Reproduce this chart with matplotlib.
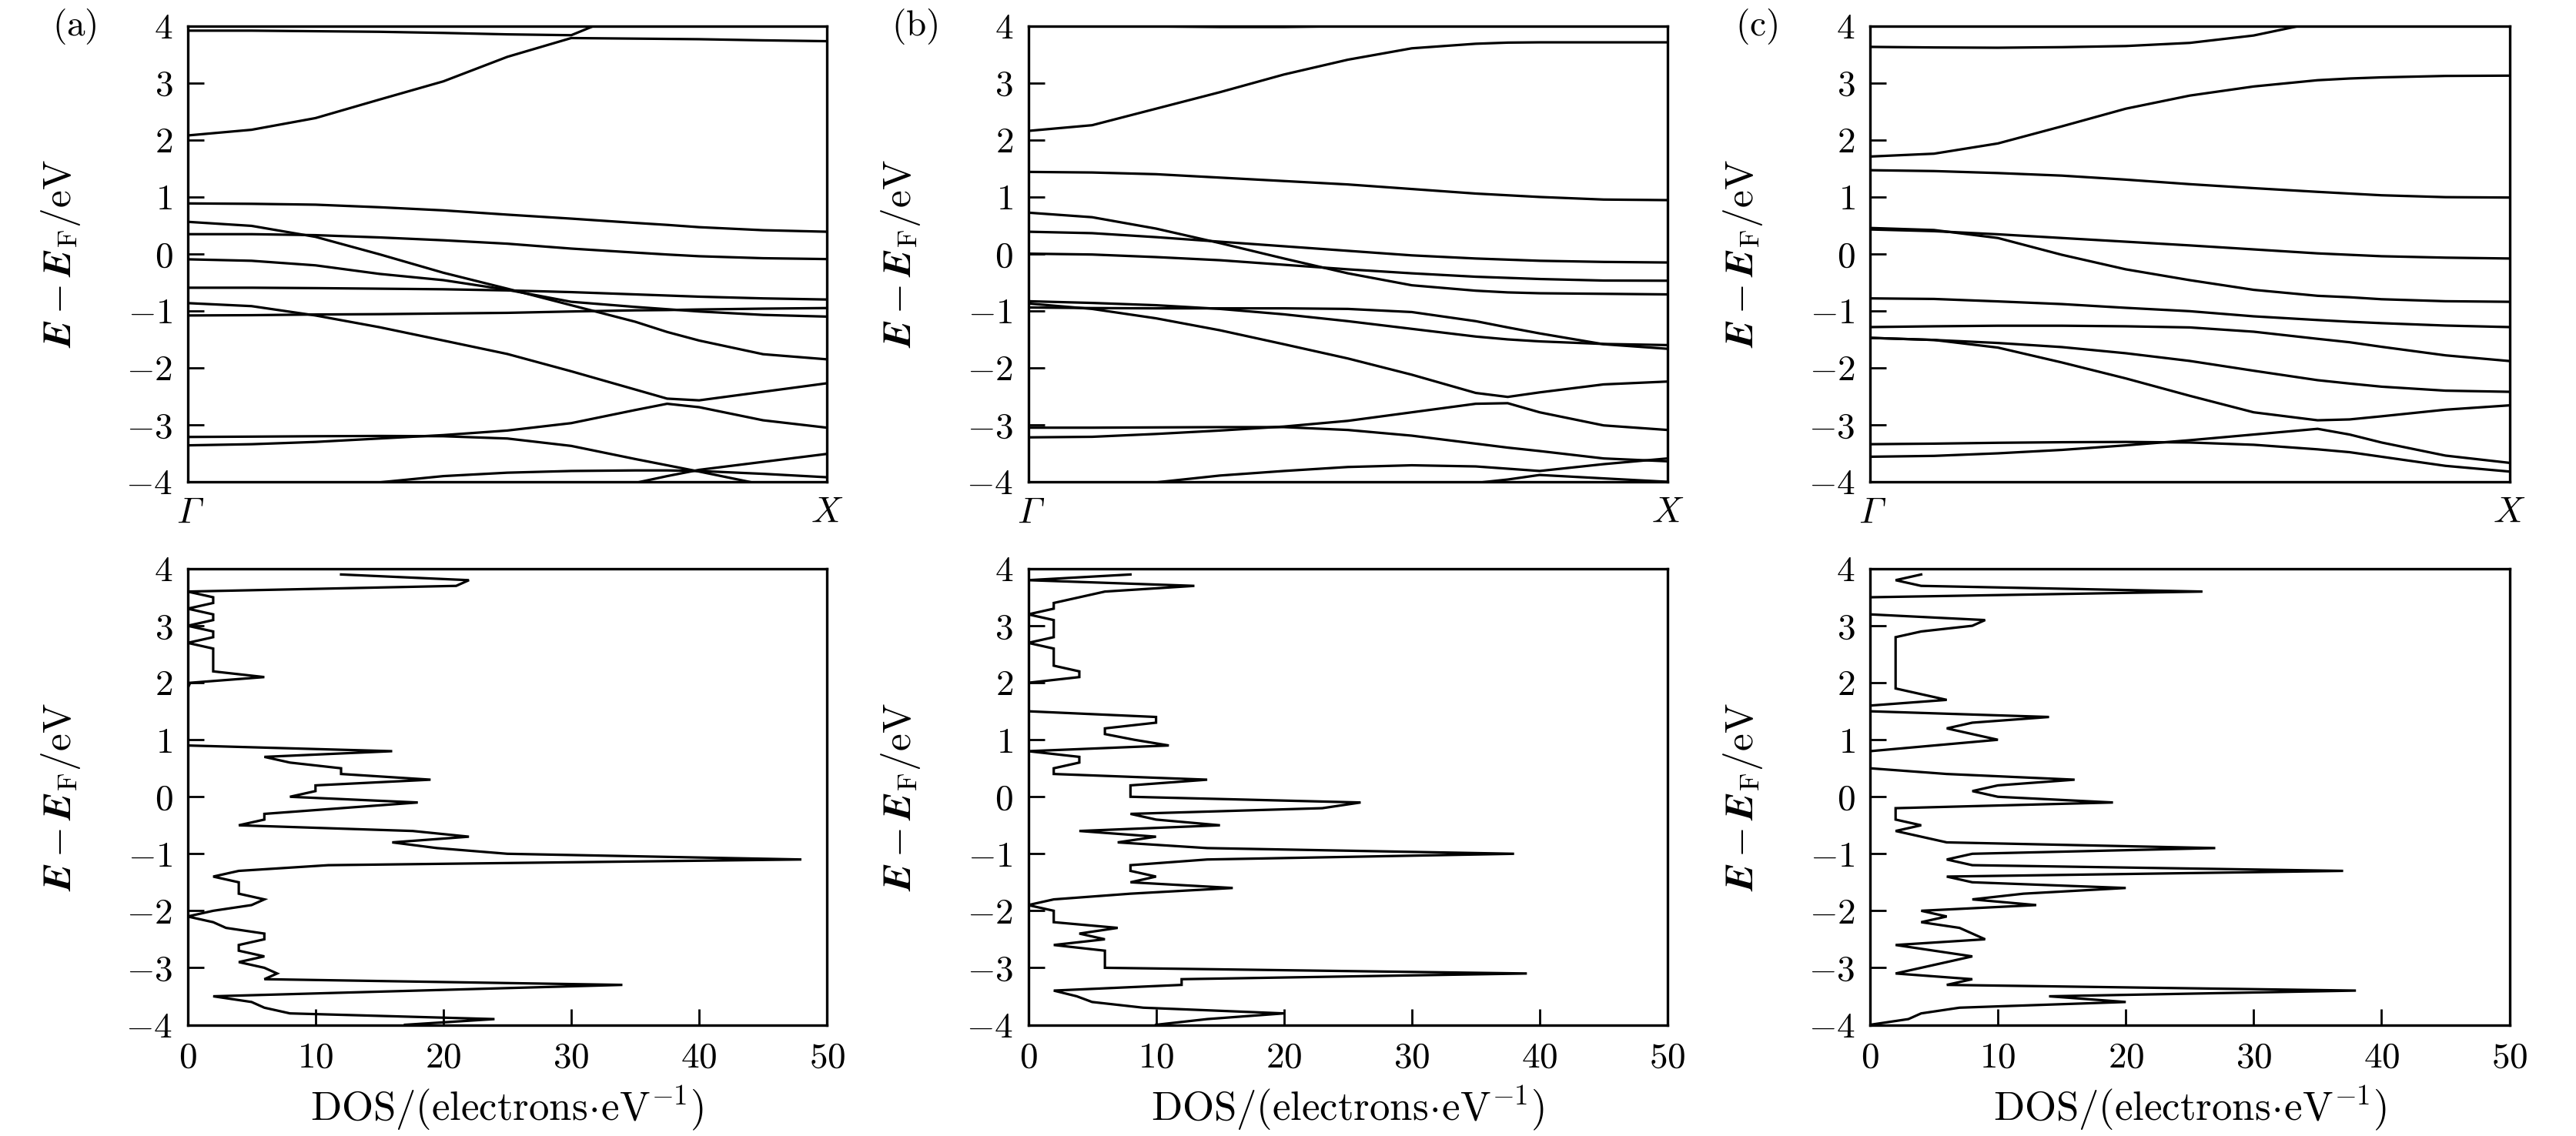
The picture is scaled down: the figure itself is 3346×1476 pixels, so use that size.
import os
import numpy as np
import matplotlib
matplotlib.use('Agg')
import matplotlib.pyplot as plt
from matplotlib.font_manager import FontProperties
from matplotlib.ft2font import FT2Font

plt.rcParams['mathtext.fontset'] = 'cm'
plt.rcParams['font.family'] = 'serif'
plt.rcParams['font.serif'] = ['cmr10', 'DejaVu Serif']
plt.rcParams['axes.formatter.use_mathtext'] = True

# ---------------- band structure data (k from Gamma to X) ----------------
K = [0.0, 0.1, 0.2, 0.3, 0.4, 0.5, 0.6, 0.7, 0.75, 0.8, 0.9, 1.0]

a1 = [3.92, 3.92, 3.91, 3.90, 3.88, 3.855, 3.84, 4.3, 4.4, 4.5, 4.6, 4.7]
a2 = [2.08, 2.18, 2.385, 2.71, 3.03, 3.46, 3.79, 3.78, 3.775, 3.77, 3.75, 3.735]
a3 = [0.887, 0.88, 0.865, 0.82, 0.765, 0.69, 0.62, 0.545, 0.51, 0.47, 0.417, 0.39]
a4 = [0.564, 0.493, 0.30, -0.006, -0.33, -0.61, -0.90, -1.19, -1.37, -1.52, -1.76, -1.85]
a5 = [0.347, 0.347, 0.33, 0.29, 0.24, 0.18, 0.094, 0.024, -0.01, -0.04, -0.075, -0.09]
a6 = [-0.094, -0.12, -0.20, -0.35, -0.46, -0.63, -0.84, -0.93, -0.97, -1.01, -1.07, -1.10]
a7 = [-0.593, -0.593, -0.60, -0.61, -0.62, -0.64, -0.67, -0.71, -0.73, -0.75, -0.78, -0.80]
a8 = [-1.08, -1.075, -1.063, -1.057, -1.045, -1.034, -1.01, -0.99, -0.985, -0.975, -0.96, -0.95]
a9 = [-0.863, -0.916, -1.08, -1.286, -1.52, -1.756, -2.06, -2.38, -2.54, -2.57, -2.42, -2.27]
a10 = [-3.36, -3.34, -3.30, -3.24, -3.18, -3.10, -2.97, -2.74, -2.63, -2.69, -2.92, -3.05]
a11 = [-3.213, -3.207, -3.20, -3.195, -3.20, -3.24, -3.37, -3.60, -3.71, -3.82, -4.05, -4.25]
a12 = [-4.6, -4.5, -4.4, -4.3, -4.25, -4.2, -4.12, -4.02, -3.90, -3.79, -3.65, -3.51]
a13 = [-4.4, -4.3, -4.15, -4.01, -3.90, -3.84, -3.81, -3.80, -3.80, -3.81, -3.86, -3.92]
BANDS_A = [a1, a2, a3, a4, a5, a6, a7, a8, a9, a10, a11, a12, a13]

b1 = [4.03, 4.01, 3.995, 3.985, 3.985, 4.0, 4.03, 4.06, 4.08, 4.1, 4.1, 4.1]
b2 = [2.16, 2.26, 2.55, 2.84, 3.15, 3.41, 3.61, 3.69, 3.71, 3.715, 3.715, 3.715]
b3 = [1.44, 1.43, 1.40, 1.34, 1.28, 1.22, 1.14, 1.06, 1.03, 1.00, 0.955, 0.945]
b4 = [0.725, 0.645, 0.445, 0.19, -0.08, -0.34, -0.55, -0.645, -0.675, -0.69, -0.70, -0.71]
b5 = [0.39, 0.365, 0.295, 0.215, 0.135, 0.055, -0.025, -0.08, -0.10, -0.12, -0.14, -0.15]
b6 = [0.005, -0.01, -0.055, -0.11, -0.19, -0.27, -0.34, -0.40, -0.42, -0.44, -0.467, -0.47]
b7 = [-0.83, -0.86, -0.90, -0.965, -1.06, -1.18, -1.315, -1.45, -1.50, -1.535, -1.58, -1.60]
b8 = [-0.94, -0.95, -0.955, -0.955, -0.955, -0.965, -1.02, -1.18, -1.29, -1.395, -1.585, -1.665]
b9 = [-0.87, -0.965, -1.13, -1.34, -1.585, -1.835, -2.12, -2.44, -2.51, -2.43, -2.29, -2.24]
b10 = [-3.22, -3.21, -3.16, -3.10, -3.03, -2.93, -2.78, -2.63, -2.62, -2.78, -3.01, -3.09]
b11 = [-3.05, -3.05, -3.045, -3.04, -3.04, -3.09, -3.19, -3.33, -3.40, -3.46, -3.59, -3.64]
b12 = [-4.2, -4.12, -4.01, -3.89, -3.81, -3.74, -3.71, -3.73, -3.77, -3.81, -3.69, -3.59]
b13 = [-4.6, -4.5, -4.4, -4.3, -4.2, -4.15, -4.1, -4.02, -3.96, -3.88, -3.94, -4.0]
BANDS_B = [b1, b2, b3, b4, b5, b6, b7, b8, b9, b10, b11, b12, b13]

c1 = [3.635, 3.625, 3.62, 3.63, 3.65, 3.705, 3.835, 4.07, 4.2, 4.3, 4.5, 4.6]
c2 = [1.71, 1.76, 1.94, 2.24, 2.55, 2.78, 2.94, 3.05, 3.08, 3.10, 3.125, 3.13]
c3 = [1.47, 1.455, 1.42, 1.375, 1.305, 1.225, 1.155, 1.09, 1.06, 1.03, 0.997, 0.99]
c4 = [0.456, 0.42, 0.28, -0.015, -0.27, -0.46, -0.63, -0.735, -0.76, -0.795, -0.83, -0.84]
c5 = [0.43, 0.40, 0.345, 0.28, 0.215, 0.15, 0.08, 0.01, -0.015, -0.04, -0.065, -0.08]
c6 = [-0.78, -0.79, -0.833, -0.88, -0.946, -1.005, -1.095, -1.16, -1.19, -1.215, -1.257, -1.284]
c7 = [-1.284, -1.27, -1.26, -1.26, -1.27, -1.29, -1.365, -1.49, -1.55, -1.63, -1.78, -1.88]
c8 = [-1.473, -1.51, -1.563, -1.635, -1.743, -1.878, -2.05, -2.216, -2.275, -2.33, -2.40, -2.42]
c9 = [-1.473, -1.51, -1.644, -1.905, -2.185, -2.49, -2.78, -2.92, -2.905, -2.85, -2.734, -2.658]
c10 = [-3.56, -3.545, -3.50, -3.44, -3.36, -3.27, -3.17, -3.07, -3.17, -3.31, -3.54, -3.667]
c11 = [-3.34, -3.33, -3.315, -3.305, -3.30, -3.31, -3.35, -3.43, -3.48, -3.56, -3.72, -3.82]
BANDS_C = [c1, c2, c3, c4, c5, c6, c7, c8, c9, c10, c11]

# ---------------- density of states data ----------------
E_DOS = [3.9, 3.8, 3.7, 3.6, 3.5, 3.4, 3.3, 3.2, 3.1, 3.0,
         2.9, 2.8, 2.7, 2.6, 2.5, 2.4, 2.3, 2.2, 2.1, 2.0,
         1.9, 1.8, 1.7, 1.6, 1.5, 1.4, 1.3, 1.2, 1.1, 1.0,
         0.9, 0.8, 0.7, 0.6, 0.5, 0.4, 0.3, 0.2, 0.1, 0.0,
         -0.1, -0.2, -0.3, -0.4, -0.5, -0.6, -0.7, -0.8, -0.9, -1.0,
         -1.1, -1.2, -1.3, -1.4, -1.5, -1.6, -1.7, -1.8, -1.9, -2.0,
         -2.1, -2.2, -2.3, -2.4, -2.5, -2.6, -2.7, -2.8, -2.9, -3.0,
         -3.1, -3.2, -3.3, -3.4, -3.5, -3.6, -3.7, -3.8, -3.9, -4.0]

DOS_A = [12, 22, 21, 0, 2, 2, 0, 2, 2, 0,
         2, 2, 0, 2, 2, 2, 2, 2, 6, 0.2,
         0, 0, 0, 0, 0, 0, 0, 0, 0, 0,
         0, 16, 6, 8, 12, 12, 19, 10, 10, 8,
         18, 12, 6, 6, 4, 17.6, 22, 16, 19.5, 25,
         48, 11, 4, 2, 4, 4, 4, 6, 5, 2,
         0, 2, 3, 6, 6, 4, 4, 6, 4, 6,
         7, 6, 34, 18, 2, 5, 6, 8, 24, 17]

DOS_B = [8, 0, 13, 6, 4, 2, 2, 0, 2, 2,
         2, 2, 0, 2, 2, 2, 2, 4, 4, 0,
         0, 0, 0, 0, 0, 10, 10, 6, 6, 8.3,
         11, 0, 4, 4, 2, 2, 14, 8, 8, 8,
         26, 23, 8, 10, 15, 4, 10, 7, 14, 38,
         14, 8, 8, 10, 8, 16, 8, 2, 0, 2,
         2, 2, 7, 4, 6, 2, 6, 6, 6, 6,
         39, 12, 12, 2, 3.8, 5, 9, 20, 14, 10]

DOS_C = [4, 2, 4, 26, 0, 0, 0, 0, 9, 8,
         4, 2, 2, 2, 2, 2, 2, 2, 2, 2,
         2, 4, 6, 0, 0, 14, 8, 6, 8, 10,
         5, 0, 0, 0, 0, 6, 16, 10, 8, 10,
         19, 2, 2, 2, 4, 2, 4, 6, 27, 8,
         6, 8, 37, 6, 8, 20, 12, 8, 13, 4,
         6, 4, 7, 8, 9, 2, 5, 8, 6, 4,
         2, 8, 6, 38, 14, 20, 7, 4, 3, 0]

PANEL_LABELS = ['(a)', '(b)', '(c)']
E_TICKS = [-4, -3, -2, -1, 0, 1, 2, 3, 4]
DOS_TICKS = [0, 10, 20, 30, 40, 50]
K_TICK_LABELS = [r'$\Gamma$', r'$X$']

# ---------------- italic Gamma from the Computer Modern math italic font ----------------
TICK_FS = 34
LABEL_FS = 38
gamma_char, gamma_fp = None, None
try:
    cmmi_path = os.path.join(matplotlib.get_data_path(), 'fonts', 'ttf', 'cmmi10.ttf')
    ft = FT2Font(cmmi_path)
    for code, gi in ft.get_charmap().items():
        if ft.get_glyph_name(gi) == 'Gamma':
            gamma_char = chr(code)
            break
    if gamma_char is not None:
        gamma_fp = FontProperties(fname=cmmi_path, size=TICK_FS)
except Exception:
    gamma_char = None

# ---------------- figure ----------------
W, H = 3346, 1476
fig = plt.figure(figsize=(W / 100, H / 100), dpi=100)

lefts = [243.7, 1335.5, 2429.0]
ax_w = 830.5
top_y0, top_h = (H - 626) / H, 592.1 / H
bot_y0, bot_h = (H - 1331.5) / H, 592.5 / H

LW = 2.3
ylab = r'$\boldsymbol{E}-\boldsymbol{E}_{\mathrm{F}}/\mathrm{eV}$'
xlab = r'$\mathrm{DOS/(electrons}\!\cdot\!\mathrm{eV}^{-1})$'


def style(ax):
    for s in ax.spines.values():
        s.set_linewidth(2.4)
    ax.tick_params(direction='in', length=15, width=2.0, labelsize=TICK_FS,
                   top=False, right=False)


e_labels = [r'$%d$' % v for v in E_TICKS]

for i, bands in enumerate([BANDS_A, BANDS_B, BANDS_C]):
    ax = fig.add_axes([lefts[i] / W, top_y0, ax_w / W, top_h])
    for b in bands:
        ax.plot(K, b, color='k', lw=LW, solid_joinstyle='round')
    ax.set_xlim(0, 1)
    ax.set_ylim(-4, 4)
    ax.set_yticks(E_TICKS)
    ax.set_yticklabels(e_labels)
    ax.set_xticks([0, 1])
    if gamma_char is not None:
        ax.set_xticklabels([gamma_char, K_TICK_LABELS[1]])
        ax.get_xticklabels()[0].set_fontproperties(gamma_fp)
    else:
        ax.set_xticklabels(K_TICK_LABELS)
    style(ax)
    ax.tick_params(axis='x', length=0, pad=14)
    ax.tick_params(axis='y', pad=14)
    ax.set_ylabel(ylab, fontsize=LABEL_FS - 1)
    ax.yaxis.set_label_coords(-0.165, 0.5)
    fig.text((lefts[i] - 147) / W, 1 - 35 / H, r'$\mathrm{%s}$' % PANEL_LABELS[i],
             fontsize=TICK_FS, ha='center', va='center')

for i, dos in enumerate([DOS_A, DOS_B, DOS_C]):
    ax = fig.add_axes([lefts[i] / W, bot_y0, ax_w / W, bot_h])
    ax.plot(dos, E_DOS, color='k', lw=LW, solid_joinstyle='miter')
    ax.set_xlim(0, 50)
    ax.set_ylim(-4, 4)
    ax.set_yticks(E_TICKS)
    ax.set_yticklabels(e_labels)
    ax.set_xticks(DOS_TICKS)
    ax.set_xticklabels([r'$%d$' % v for v in DOS_TICKS])
    style(ax)
    ax.tick_params(axis='x', pad=16)
    ax.tick_params(axis='y', pad=14)
    ax.set_ylabel(ylab, fontsize=LABEL_FS - 1)
    ax.yaxis.set_label_coords(-0.165, 0.5)
    ax.set_xlabel(xlab, fontsize=LABEL_FS, labelpad=10)

fig.savefig('out.png', dpi=100)
